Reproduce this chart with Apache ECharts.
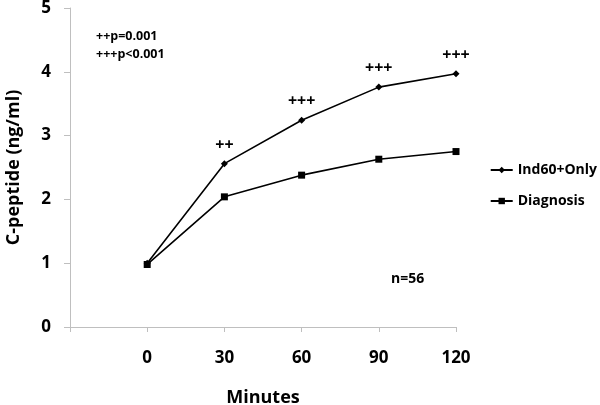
<!DOCTYPE html>
<html><head><meta charset="utf-8">
<script src="https://cdn.jsdelivr.net/npm/echarts@6/dist/echarts.min.js"></script>
<style>html,body{margin:0;padding:0;background:#fff}#c{width:600px;height:405px}</style>
</head><body><div id="c"></div>
<script>
var minutes = [0, 30, 60, 90, 120];
var ind60Only = [1.0, 2.56, 3.24, 3.76, 3.97];
var diagnosis = [0.98, 2.04, 2.38, 2.63, 2.75];
var significance = ['', '++', '+++', '+++', '+++'];
var yTicks = [0, 1, 2, 3, 4, 5];
var notes = ['++p=0.001', '+++p<0.001'];
var nLabel = 'n=56';

var FONT = 'Open Sans';
var chart = echarts.init(document.getElementById('c'));
chart.setOption({
  animation: false,
  backgroundColor: '#fff',
  textStyle: {fontFamily: FONT},
  grid: {left: 70, right: 144, top: 8, bottom: 78, containLabel: false, outerBoundsMode: 'none'},
  legend: {
    orient: 'vertical', right: -2, top: 158, itemGap: 17, itemWidth: 22, itemHeight: 8,
    textStyle: {fontFamily: FONT, fontWeight: 'bold', fontSize: 14, color: '#000'},
    data: ['Ind60+Only', 'Diagnosis']
  },
  xAxis: {
    type: 'value', min: -30, max: 120, interval: 30,
    name: 'Minutes', nameLocation: 'middle', nameGap: 62,
    nameTextStyle: {fontFamily: FONT, fontWeight: 'bold', fontSize: 18, color: '#000'},
    axisLine: {onZero: false, lineStyle: {color: '#bfbfbf'}},
    axisTick: {show: true, length: 5, lineStyle: {color: '#bfbfbf'}},
    splitLine: {show: false},
    axisLabel: {margin: 23, fontFamily: FONT, fontWeight: 'bold', fontSize: 17, color: '#000',
      formatter: function (v) { return minutes.indexOf(v) >= 0 ? String(v) : ''; }}
  },
  yAxis: {
    type: 'value', min: yTicks[0], max: yTicks[yTicks.length - 1], interval: 1,
    name: 'C-peptide (ng/ml)', nameLocation: 'middle', nameGap: 47, nameRotate: 90,
    nameTextStyle: {fontFamily: FONT, fontWeight: 'bold', fontSize: 18, color: '#000'},
    axisLine: {show: true, onZero: false, lineStyle: {color: '#bfbfbf'}},
    axisTick: {show: true, length: 6, lineStyle: {color: '#bfbfbf'}},
    splitLine: {show: false},
    axisLabel: {margin: 19, fontFamily: FONT, fontWeight: 'bold', fontSize: 17, color: '#000'}
  },
  graphic: [
    {type: 'text', left: 96, top: 27, style: {text: notes.join('\n'), fontFamily: FONT, fontWeight: 'bold', fontSize: 12.5, lineHeight: 18, fill: '#000'}},
    {type: 'text', left: 391, top: 272, style: {text: nLabel, fontFamily: FONT, fontWeight: 'bold', fontSize: 14, fill: '#000'}}
  ],
  series: [
    {
      name: 'Ind60+Only', type: 'line',
      data: minutes.map(function (m, i) { return [m, ind60Only[i]]; }),
      symbol: 'diamond', symbolSize: 7, showAllSymbol: true,
      lineStyle: {color: '#000', width: 1.6}, itemStyle: {color: '#000'},
      label: {show: true, position: 'top', distance: 7, fontFamily: FONT, fontWeight: 'bold', fontSize: 16, color: '#000',
        formatter: function (p) { return significance[p.dataIndex]; }}
    },
    {
      name: 'Diagnosis', type: 'line',
      data: minutes.map(function (m, i) { return [m, diagnosis[i]]; }),
      symbol: 'rect', symbolSize: 7, showAllSymbol: true,
      lineStyle: {color: '#000', width: 1.6}, itemStyle: {color: '#000'}
    }
  ]
});
</script></body></html>
